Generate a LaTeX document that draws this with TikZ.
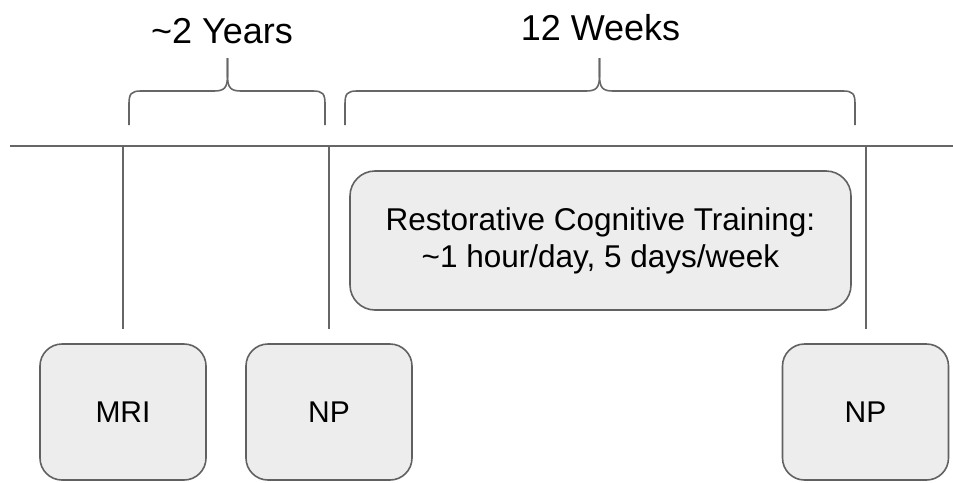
\documentclass[tikz,border=0pt]{standalone}
\usepackage{fontspec}
\setmainfont{Liberation Sans}
\begin{document}
\begin{tikzpicture}[x=1pt,y=-1pt,
  linecol/.style={draw=black!60, line width=1.4pt},
  bracecol/.style={draw=black!60, line width=1.6pt},
  boxstyle/.style={draw=black!62, line width=1.6pt, fill=black!7, rounded corners=22pt,
    inner sep=0pt, minimum width=166pt, minimum height=136pt,
    font=\fontsize{30}{36}\selectfont},
  titlestyle/.style={inner sep=0pt, anchor=base, font=\fontsize{36}{42}\selectfont}]
\useasboundingbox (0,0) rectangle (953,482);
% timeline
\coordinate (tl) at (10,146);
\coordinate (tr) at (953,146);
\draw[linecol] (tl) -- (tr);
% boxes
\node[boxstyle] (mri) at (123,412) {MRI};
\node[boxstyle] (np1) at (329,412) {NP};
\node[boxstyle] (np2) at (865.5,412) {NP};
\node[boxstyle, minimum width=501pt, minimum height=139pt, rounded corners=25pt,
  align=center, font=\fontsize{31.5}{37}\selectfont] (rct) at (600.5,240.5)
  {Restorative Cognitive Training:\\\textasciitilde1 hour/day, 5 days/week};
% timeline ticks
\coordinate (t1) at (123,146);
\coordinate (t2) at (329,146);
\coordinate (t3) at (866,146);
\draw[linecol] (t1) -- ([yshift=14pt]mri.north);
\draw[linecol] (t2) -- ([yshift=14pt]np1.north);
\draw[linecol] (t3) -- ([yshift=14pt,xshift=0.5pt]np2.north);
% braces
\draw[bracecol] (129,125) -- (129,104) .. controls (129,94) and (131,91) .. (141,91)
  -- (214,91) .. controls (224,91) and (227.5,88) .. (227.5,76) -- (227.5,58);
\draw[bracecol] (227.5,58) -- (227.5,76) .. controls (227.5,88) and (231,91) .. (241,91)
  -- (313,91) .. controls (323,91) and (325,94) .. (325,104) -- (325,125);
\draw[bracecol] (345,125) -- (345,104) .. controls (345,94) and (347,91) .. (357,91)
  -- (586,91) .. controls (596,91) and (599.5,88) .. (599.5,76) -- (599.5,58);
\draw[bracecol] (599.5,58) -- (599.5,76) .. controls (599.5,88) and (603,91) .. (613,91)
  -- (843,91) .. controls (853,91) and (855,94) .. (855,104) -- (855,125);
% titles
\node[titlestyle] (yrs) at (222,43) {\textasciitilde2 Years};
\node[titlestyle] (wks) at (600.5,40) {12 Weeks};
\end{tikzpicture}
\end{document}
